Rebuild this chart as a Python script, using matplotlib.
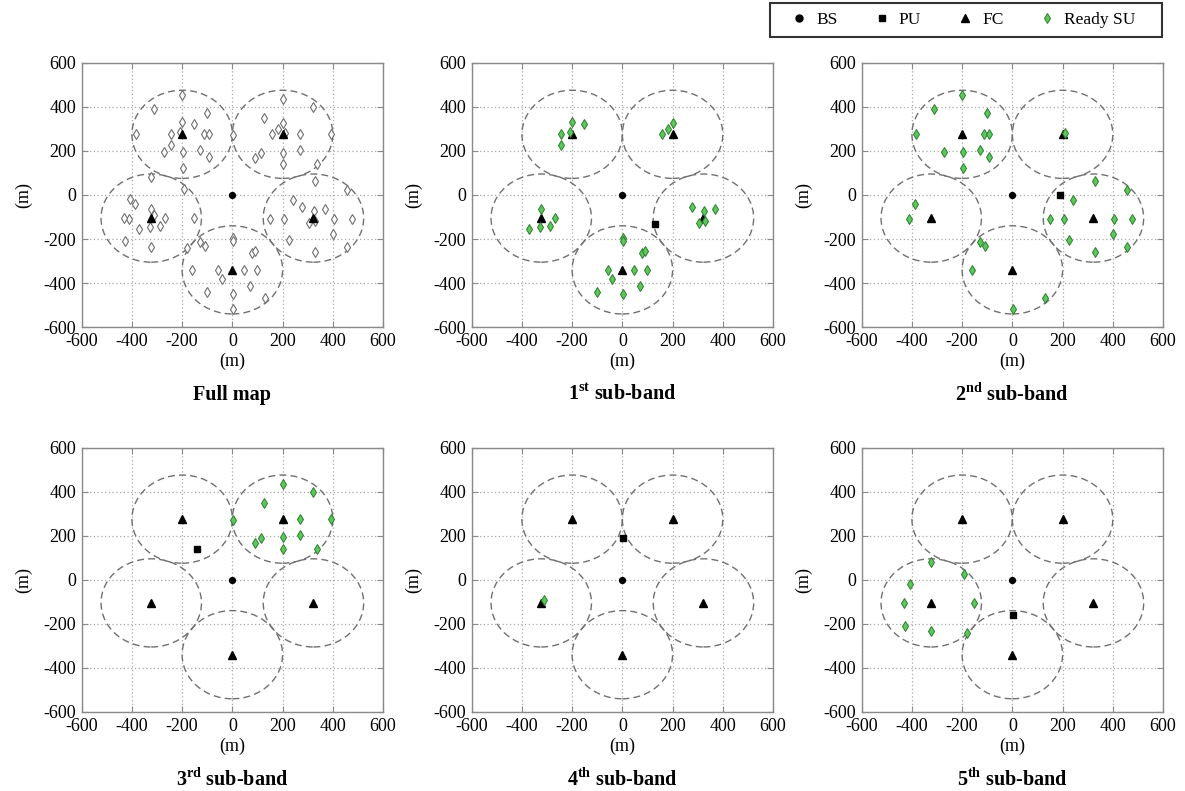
"""Sub-band maps of ready secondary users around the fusion centres."""

import numpy as np
import matplotlib
matplotlib.use("Agg")
import matplotlib.pyplot as plt
from matplotlib.patches import Circle, Rectangle
from matplotlib.lines import Line2D

plt.rcParams["font.family"] = ["Liberation Serif", "DejaVu Serif"]
plt.rcParams["mathtext.fontset"] = "custom"
plt.rcParams["mathtext.rm"] = "Liberation Serif"
plt.rcParams["mathtext.bf"] = "Liberation Serif:bold"
plt.rcParams["axes.unicode_minus"] = False

# base station and fusion centres (m)
bs = [0, 0]
fc_x = [-200, 200, -323, 323, 0]
fc_y = [275, 275, -105, -105, -340]
cell_radius = 200

# ready SUs per sub-band (x, y) in m
su_band1 = [
    (-200, 332), (-154, 321), (-244, 276), (-208, 285), (-244, 227),
    (202, 327), (183, 298), (156, 276),
    (-325, -65), (-373, -153), (-326, -145), (-290, -141), (-267, -106),
    (276, -55), (326, -73), (369, -65), (304, -127), (329, -118),
    (1, -195), (1, -211), (78, -265), (89, -255), (-57, -342), (45, -342),
    (99, -342), (-42, -383), (69, -411), (-102, -442), (1, -450),
]
su_band2 = [
    (-200, 453), (-314, 392), (-102, 371), (-385, 276), (-113, 276),
    (-94, 276), (-273, 197), (-198, 195), (-127, 203), (-94, 171),
    (-198, 124),
    (210, 282),
    (-387, -42), (-411, -108),
    (-127, -214), (-107, -233), (-162, -342), (129, -467), (3, -518),
    (329, 64), (455, 24), (243, -21), (151, -108), (204, -108), (404, -108),
    (477, -108), (225, -206), (400, -179), (458, -235), (329, -259),
]
su_band3 = [
    (202, 435), (320, 398), (126, 347), (4, 272), (268, 275), (393, 275),
    (269, 205), (114, 190), (92, 166), (202, 192), (202, 139), (336, 139),
]
su_band4 = [(-312, -91)]
su_band5 = [
    (-324, 80), (-192, 26), (-408, -18), (-431, -106), (-151, -106),
    (-426, -208), (-324, -234), (-182, -242),
]

# primary user position per sub-band
pu_pos = [(131, -130), (191, 0), (-141, 140), (3, 190), (1, -158)]

titles = ["Full map", r"1$^{\mathbf{st}}$ sub-band", r"2$^{\mathbf{nd}}$ sub-band",
          r"3$^{\mathbf{rd}}$ sub-band", r"4$^{\mathbf{th}}$ sub-band",
          r"5$^{\mathbf{th}}$ sub-band"]

ticks = [-600, -400, -200, 0, 200, 400, 600]

W, H = 1185, 791
fig = plt.figure(figsize=(W / 100, H / 100), dpi=100)

col_left = [81.7, 471.7, 861.7]
row_top = [62.7, 447.5]
ax_w, ax_h = 301.3, 264.5

bands = [su_band1, su_band2, su_band3, su_band4, su_band5]
full_map = [p for b in bands for p in b]

green_face = "#5cc85c"
green_edge = "#2e7d2e"
frame_col = "#8a8a8a"

for i in range(6):
    r, c = divmod(i, 3)
    ax = fig.add_axes([col_left[c] / W, 1 - (row_top[r] + ax_h) / H, ax_w / W, ax_h / H])
    ax.set_xlim(-600, 600)
    ax.set_ylim(-600, 600)
    ax.set_xticks(ticks)
    ax.set_yticks(ticks)
    ax.grid(True, linestyle=(0, (1, 2)), color="#a8a8a8", linewidth=0.9)
    ax.set_axisbelow(True)
    for sp in ax.spines.values():
        sp.set_color(frame_col)
        sp.set_linewidth(1.0)
    ax.tick_params(direction="in", length=4, color=frame_col, labelsize=13,
                   top=True, right=True, pad=4)

    for x, y in zip(fc_x, fc_y):
        ax.add_patch(Circle((x, y), cell_radius, fill=False, linestyle=(0, (5, 3)),
                            edgecolor="#707070", linewidth=1.0, zorder=2))

    if i == 0:
        pts = np.array(full_map)
        ax.plot(pts[:, 0], pts[:, 1], linestyle="none", marker="d", ms=4.6,
                mfc="white", mec="#6f6f6f", mew=0.8, zorder=3)
    else:
        pts = np.array(bands[i - 1])
        ax.plot(pts[:, 0], pts[:, 1], linestyle="none", marker="d", ms=4.6,
                mfc=green_face, mec=green_edge, mew=0.7, zorder=4)
        px, py = pu_pos[i - 1]
        ax.plot(px, py, linestyle="none", marker="s", ms=4.5, color="black", zorder=5)

    ax.plot(fc_x, fc_y, linestyle="none", marker="^", ms=5.2, color="black", zorder=3)
    ax.plot(bs[0], bs[1], linestyle="none", marker="o", ms=4.2, color="black", zorder=3)

    ax.set_xlabel("(m)", fontsize=13, labelpad=2)
    ax.set_ylabel("(m)", fontsize=13, labelpad=8)
    ax.text(0.5, -0.255, titles[i], transform=ax.transAxes, ha="center", va="center",
            fontsize=14.5, fontweight="bold")

# legend box drawn separately so the side padding can be wider than the top
fig.patches.append(Rectangle((770 / W, 1 - 37 / H), 392 / W, 34 / H,
                             transform=fig.transFigure, fill=False,
                             edgecolor="#333333", linewidth=1.5))
handles = [
    Line2D([], [], linestyle="none", marker="o", ms=5, color="black", label="BS"),
    Line2D([], [], linestyle="none", marker="s", ms=5, color="black", label="PU"),
    Line2D([], [], linestyle="none", marker="^", ms=6, color="black", label="FC"),
    Line2D([], [], linestyle="none", marker="d", ms=5, mfc=green_face,
           mec=green_edge, mew=0.7, label="Ready SU"),
]
fig.legend(handles=handles, loc="center", bbox_to_anchor=(964 / W, 1 - 20 / H),
           ncol=4, fontsize=12.5, frameon=False, handletextpad=0.6,
           columnspacing=2.1, handlelength=0.8, borderpad=0, borderaxespad=0)

fig.savefig("out.png", dpi=100)
